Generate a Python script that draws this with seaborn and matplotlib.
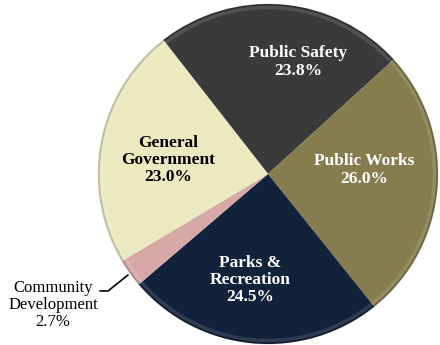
import matplotlib
matplotlib.use("Agg")
import matplotlib.pyplot as plt
from matplotlib.patches import Circle
import seaborn as sns

# Budget shares by department (percent of total)
departments = ["Public Safety", "Public Works", "Parks &\nRecreation",
               "Community\nDevelopment", "General\nGovernment"]
shares = [23.8, 26.0, 24.5, 2.7, 23.0]
colors = ["#3a3a3a", "#857d4e", "#13223b", "#d6a9a7", "#ebe9bf"]
text_colors = ["white", "white", "white", "black", "black"]

sns.set_theme(style="white")
plt.rcParams["font.family"] = ["Liberation Serif", "DejaVu Serif"]

W, H = 440, 345
fig = plt.figure(figsize=(W / 100, H / 100), dpi=100)
ax = fig.add_axes([0, 0, 1, 1])

cx, cy, r = 268, H - 174, 170
wedges, _ = ax.pie(shares, colors=colors, startangle=128, counterclock=False,
                   center=(cx, cy), radius=r, frame=True,
                   wedgeprops=dict(linewidth=0, antialiased=True))

# soft bevel around the rim
ax.add_patch(Circle((cx, cy), r - 0.8, fill=False, edgecolor="black",
                    alpha=0.18, linewidth=1.6))
ax.add_patch(Circle((cx, cy), r - 3.5, fill=False, edgecolor="white",
                    alpha=0.12, linewidth=2.5))

ax.set_xlim(0, W)
ax.set_ylim(0, H)
ax.set_aspect("equal")
ax.axis("off")

# label anchor points (pixels from top-left)
label_xy = [(298, 62), (364, 170), (250, 280), (53, 305), (168, 160)]
for name, val, (px, py), tc in zip(departments, shares, label_xy, text_colors):
    inside = tc == "white" or "General" in name
    ax.text(px, H - py, f"{name}\n{val:.1f}%", ha="center", va="center",
            color=tc, fontsize=12.5 if inside else 12,
            fontweight="bold" if inside else "normal",
            linespacing=1.12)

# leader line for the small slice
ax.plot([100, 108, 128], [H - 291, H - 291, H - 275], color="black", lw=1.2)

fig.savefig("out.png", dpi=100)
